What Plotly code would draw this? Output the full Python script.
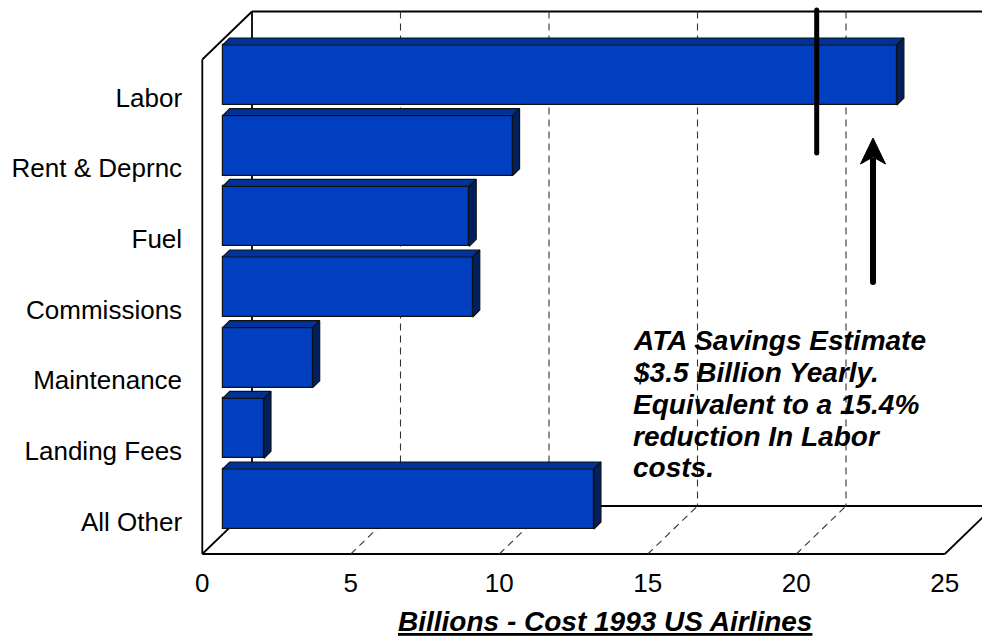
import plotly.graph_objects as go

# ---------------- data ----------------
categories = ["Labor", "Rent & Deprnc", "Fuel", "Commissions",
              "Maintenance", "Landing Fees", "All Other"]
costs = [22.7, 9.76, 8.3, 8.42, 3.03, 1.39, 12.5]          # billions USD, 1993
tick_values = [0, 5, 10, 15, 20, 25]
note_lines = ["ATA Savings Estimate", "$3.5 Billion Yearly.",
              "Equivalent to a 15.4%", "reduction In Labor", "costs."]
axis_title = "Billions - Cost 1993 US Airlines"
cut_marker = 20.0   # position of the heavy marker line on the value scale

# ---------------- geometry (pixels) ----------------
W, H = 982, 636
UNIT = 29.7          # px per billion
BAR_X0 = 222.7       # px of value 0 on the bar plane
FRONT_X0 = 202.3     # px of value 0 on the front plane
BACK_X0 = 252.0      # px of value 0 on the back wall
FRONT_Y = 554.0      # front floor edge
BACK_Y = 506.0       # back floor edge
TOP_Y = 11.5         # top of back wall
ROW0 = 75.0          # px centre of first bar (front face)
ROW = 70.67          # px per category
LABEL0 = 97.5        # px centre of first category label
BAR_W = 60.0 / ROW   # bar thickness in category units
DEPTH = 7.0          # px of bar 3D depth
DX = DEPTH / UNIT
DY = DEPTH / ROW

FRONT_C = "#0040C0"
TOP_C = "#003399"
SIDE_C = "#00205F"
EDGE_C = "#111111"
FONT = "Liberation Sans, Arial, sans-serif"


def X(px):
    return px / W


def Y(py):
    return 1 - py / H


idx = list(range(len(categories)))

fig = go.Figure()

# front faces
fig.add_trace(go.Bar(
    x=costs, y=idx, orientation="h", width=BAR_W, base=0,
    marker=dict(color=FRONT_C, line=dict(color=EDGE_C, width=1.2)),
    hoverinfo="skip", showlegend=False))

# top faces and side faces built from the data
tx, ty, sx, sy = [], [], [], []
for i, v in zip(idx, costs):
    yt = i - BAR_W / 2
    yb = i + BAR_W / 2
    tx += [0, DX, v + DX, v, 0, None]
    ty += [yt, yt - DY, yt - DY, yt, yt, None]
    sx += [v, v + DX, v + DX, v, v, None]
    sy += [yt, yt - DY, yb - DY, yb, yt, None]
fig.add_trace(go.Scatter(x=tx, y=ty, mode="lines", fill="toself",
                         fillcolor=TOP_C, line=dict(color=EDGE_C, width=1.2),
                         hoverinfo="skip", showlegend=False))
fig.add_trace(go.Scatter(x=sx, y=sy, mode="lines", fill="toself",
                         fillcolor=SIDE_C, line=dict(color=EDGE_C, width=1.2),
                         hoverinfo="skip", showlegend=False))

# heavy marker line
fig.add_trace(go.Scatter(
    x=[cut_marker, cut_marker],
    y=[(10 - ROW0) / ROW, (153 - ROW0) / ROW],
    mode="lines+markers", line=dict(color="black", width=5),
    marker=dict(size=5, color="black"),
    hoverinfo="skip", showlegend=False))

# invisible trace to carry the label axes
fig.add_trace(go.Scatter(x=[0], y=[0], xaxis="x2", yaxis="y2", mode="markers",
                         marker=dict(opacity=0), hoverinfo="skip",
                         showlegend=False))

# ---------------- frame shapes ----------------
shapes = []
solid = dict(color="black", width=1.8)
dashed = dict(color="#333333", width=1.1, dash="7px,5px")
back_end = BACK_X0 + tick_values[-1] * UNIT
front_end = FRONT_X0 + tick_values[-1] * UNIT
depth_y = FRONT_Y - BACK_Y


def seg(x0, y0, x1, y1, line):
    shapes.append(dict(type="line", xref="paper", yref="paper",
                       x0=X(x0), y0=Y(y0), x1=X(x1), y1=Y(y1),
                       line=line, layer="below"))


seg(FRONT_X0, FRONT_Y, front_end, FRONT_Y, solid)
seg(front_end, FRONT_Y, back_end, BACK_Y, solid)
seg(FRONT_X0, FRONT_Y, BACK_X0, BACK_Y, solid)
seg(BACK_X0, BACK_Y, back_end, BACK_Y, solid)
seg(FRONT_X0, FRONT_Y, FRONT_X0, TOP_Y + depth_y, solid)
seg(FRONT_X0, TOP_Y + depth_y, BACK_X0, TOP_Y, solid)
seg(BACK_X0, TOP_Y, BACK_X0, BACK_Y, solid)
seg(BACK_X0, TOP_Y, back_end, TOP_Y, solid)
for t in tick_values[1:-1]:
    seg(BACK_X0 + t * UNIT, TOP_Y, BACK_X0 + t * UNIT, BACK_Y, dashed)
    seg(FRONT_X0 + t * UNIT, FRONT_Y, BACK_X0 + t * UNIT, BACK_Y, dashed)

# arrow (shaft + head)
shapes.append(dict(type="line", xref="paper", yref="paper",
                   x0=X(873), y0=Y(282), x1=X(873), y1=Y(158),
                   line=dict(color="black", width=6), layer="above"))
shapes.append(dict(type="circle", xref="paper", yref="paper",
                   x0=X(870), x1=X(876), y0=Y(279), y1=Y(285),
                   fillcolor="black", line=dict(width=0), layer="above"))
head = "M {} {} L {} {} L {} {} L {} {} Z".format(
    X(873), Y(138), X(885.5), Y(164), X(873), Y(157), X(860.5), Y(164))
shapes.append(dict(type="path", xref="paper", yref="paper", path=head,
                   fillcolor="black", line=dict(color="black", width=1),
                   layer="above"))

# ---------------- annotations ----------------
annotations = []
for k, line in enumerate(note_lines):
    annotations.append(dict(
        xref="paper", yref="paper", x=X(631), y=Y(340 + 32 * k),
        xanchor="left", yanchor="middle", showarrow=False,
        text="<b><i>" + line + "</i></b>",
        font=dict(family=FONT, size=28, color="black")))
annotations.append(dict(
    xref="paper", yref="paper", x=X(605), y=Y(621),
    xanchor="center", yanchor="middle", showarrow=False,
    text=axis_title,
    font=dict(family=FONT, size=28, color="black", weight="bold",
              style="italic", lineposition="under")))

fig.update_layout(
    width=W, height=H,
    margin=dict(l=0, r=0, t=0, b=0),
    paper_bgcolor="white", plot_bgcolor="rgba(0,0,0,0)",
    bargap=0,
    xaxis=dict(domain=[0, 1], range=[-BAR_X0 / UNIT, (W - BAR_X0) / UNIT],
               visible=False, fixedrange=True),
    yaxis=dict(domain=[0, 1], range=[(H - ROW0) / ROW, -ROW0 / ROW],
               visible=False, fixedrange=True),
    xaxis2=dict(overlaying="x", anchor="free", position=Y(FRONT_Y),
                side="bottom",
                range=[-FRONT_X0 / UNIT, (W - FRONT_X0) / UNIT],
                tickvals=tick_values, ticktext=[str(t) for t in tick_values],
                showgrid=False, zeroline=False, showline=False,
                ticks="outside", ticklen=6, tickcolor="rgba(0,0,0,0)",
                tickfont=dict(family=FONT, size=26, color="black"),
                fixedrange=True),
    yaxis2=dict(overlaying="y", anchor="free", position=X(FRONT_X0),
                side="left",
                range=[(H - LABEL0) / ROW, -LABEL0 / ROW],
                tickvals=idx, ticktext=categories,
                showgrid=False, zeroline=False, showline=False,
                ticks="outside", ticklen=15, tickcolor="rgba(0,0,0,0)",
                tickfont=dict(family=FONT, size=26, color="black"),
                fixedrange=True),
    shapes=shapes,
    annotations=annotations,
)

fig.write_html("out.html")
